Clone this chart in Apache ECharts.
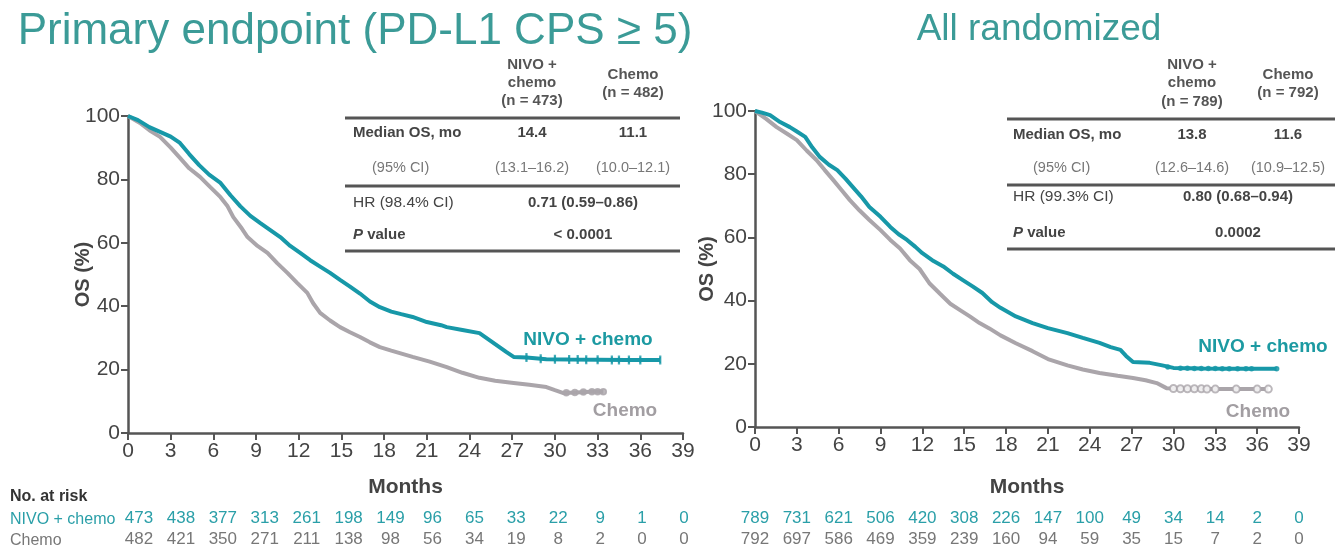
<!DOCTYPE html>
<html><head><meta charset="utf-8">
<script src="https://cdn.jsdelivr.net/npm/echarts@6/dist/echarts.min.js"></script>
<style>html,body{margin:0;padding:0;background:#fff}#c{width:1337px;height:551px}</style>
</head><body><div id="c"></div>
<script>
// ---------- data ----------
const monthTicks = [0,3,6,9,12,15,18,21,24,27,30,33,36,39];
const yTicks = [0,20,40,60,80,100];

const leftNivo = [[0,100],[0.7,98.7],[1.5,96.5],[2.25,95],[3,93.5],[3.65,91.5],[4.3,88],[5,84.5],[5.7,81.5],[6.5,78.9],[7.2,75],[7.9,71.5],[8.6,68.5],[9.3,66.2],[10,64],[10.7,61.8],[11.4,59],[12.1,56.8],[12.8,54.5],[13.5,52.5],[14.2,50.5],[14.9,48.3],[15.6,46.2],[16.3,44],[17,41.5],[17.7,39.7],[18.5,38.3],[19.2,37.5],[20,36.6],[21,35],[22,34],[22.4,33.4],[23.5,32.5],[24.7,31.5],[25.5,29],[26.1,27.1],[26.6,25.5],[27.1,24],[28,23.8],[29.4,23.3],[31,23.2],[33,23.1],[35,23],[37.4,23]];
const leftChemo = [[0,100],[0.84,97.8],[1.5,95.5],[2.25,93.4],[3,90],[3.65,86.8],[4.3,83.5],[5.06,80.8],[5.8,77.5],[6.5,74.4],[7,71.5],[7.4,68.1],[8,64.5],[8.4,61.8],[9.1,59],[9.8,56.8],[10.5,53.5],[11.2,50.5],[11.9,47.3],[12.6,44.2],[13,41],[13.5,37.9],[14.2,35.5],[14.9,33.4],[15.6,31.8],[16.3,30.3],[17,28.6],[17.7,27.1],[18.5,26],[19.1,25.2],[20,24],[21.2,22.5],[22.4,20.8],[23.5,19],[24.7,17.4],[25.8,16.5],[27.1,15.8],[28.2,15.2],[29.4,14.5],[30,13.5],[30.6,12.6],[31.5,12.8],[32.5,13],[33.4,13]];
const rightNivo = [[0,100],[0.5,99.5],[1.08,98.7],[1.8,96.5],[2.5,94.9],[3,93.5],[3.6,91.8],[4.1,88.5],[4.66,85.4],[5.3,83],[5.9,81.3],[6.5,78.5],[7,76],[7.6,73],[8.2,69.6],[9,66.5],[9.7,63.3],[10.3,61],[10.9,59.2],[11.5,57],[12,55],[12.8,52.5],[13.5,50.8],[14.2,48.5],[14.9,46.5],[15.6,44.5],[16.3,42.4],[17,39.5],[17.6,37.7],[18.7,35],[19.9,32.9],[21,31.3],[22.4,29.7],[23.5,28.2],[24.7,26.6],[25.5,25.3],[26.2,24.4],[26.6,22.5],[27.1,20.6],[28.3,20.3],[29.2,19.5],[30,18.7],[32,18.5],[34,18.4],[37.4,18.4]];
const rightChemo = [[0,100],[0.8,97.5],[1.55,94.9],[2.3,92.8],[3,90.8],[3.7,87.5],[4.4,84.5],[5,81.3],[5.6,78.2],[6.2,75],[6.8,71.8],[7.5,68.5],[8.2,65.5],[9,62.3],[9.7,59.2],[10.4,56.5],[11.1,52.8],[11.8,50],[12.5,45.5],[13.3,42],[14,39],[14.7,37],[15.4,35],[16.1,32.9],[16.8,31.2],[17.6,29],[18.7,26.5],[19.9,24],[21,21.5],[22.4,19.5],[23.5,18.2],[24.7,17.1],[26,16.2],[27.1,15.5],[28,14.8],[28.8,13.9],[29.5,12.3],[31,12.1],[33,12],[36.8,12]];

const leftNivoCensor = [[28,23.8],[29,23.4],[30,23.3],[31,23.2],[31.6,23.2],[32.2,23.1],[33,23.1],[34,23],[34.5,23],[35.2,23],[36,23],[37.4,23]];
const leftChemoCensor = [[30.8,12.7],[31.4,12.8],[32,12.9],[32.6,13],[33,13],[33.4,13]];
const rightNivoCensor = [[29.6,19],[30.5,18.6],[31,18.6],[31.5,18.5],[32,18.5],[32.5,18.5],[33,18.5],[33.5,18.4],[34,18.4],[34.6,18.4],[35.2,18.4],[35.6,18.4],[37.4,18.4]];
const rightChemoCensor = [[30,12.2],[30.5,12.1],[31,12.1],[31.5,12.1],[32,12.1],[32.4,12],[33,12],[34.5,12],[36,12],[36.8,12]];

const riskLeftNivo = [473,438,377,313,261,198,149,96,65,33,22,9,1,0];
const riskLeftChemo = [482,421,350,271,211,138,98,56,34,19,8,2,0,0];
const riskRightNivo = [789,731,621,506,420,308,226,147,100,49,34,14,2,0];
const riskRightChemo = [792,697,586,469,359,239,160,94,59,35,15,7,2,0];

const titles = ['Primary endpoint (PD-L1 CPS \u2265 5)', 'All randomized'];
const tableHeadNivo = [['NIVO +','chemo','(n = 473)'], ['NIVO +','chemo','(n = 789)']];
const tableHeadChemo = [['Chemo','(n = 482)'], ['Chemo','(n = 792)']];
const tableMedian = [['14.4','11.1'], ['13.8','11.6']];
const tableCI = [['(13.1\u201316.2)','(10.0\u201312.1)'], ['(12.6\u201314.6)','(10.9\u201312.5)']];
const tableHRLabel = ['HR (98.4% CI)', 'HR (99.3% CI)'];
const tableHR = ['0.71 (0.59\u20130.86)', '0.80 (0.68\u20130.94)'];
const tableP = ['< 0.0001', '0.0002'];

// ---------- styles ----------
const TEAL = '#1798a8', GRAY = '#aaa5aa', TITLE = '#3b9b97', DARK = '#444', AX = '#555';
const F = 'Liberation Sans, Arial, sans-serif';

const chart = echarts.init(document.getElementById('c'));

const grids = [
  {left:128, top:116, width:555, height:317},
  {left:755, top:111, width:544, height:316},
  {left:139, top:503, width:545, height:1},
  {left:755, top:503, width:544, height:1}
];

function mainX(g, gap){
  return {type:'value', gridIndex:g, min:0, max:39, interval:3,
    axisLine:{show:true, onZero:false, lineStyle:{color:AX, width:2.5}},
    axisTick:{show:true, length:7, lineStyle:{color:AX, width:2}},
    axisLabel:{color:DARK, fontSize:21, fontFamily:F, margin:8},
    splitLine:{show:false},
    name:'Months', nameLocation:'middle', nameGap:gap, nameMoveOverlap:false,
    nameTextStyle:{color:DARK, fontSize:21, fontWeight:'bold', fontFamily:F}};
}
function mainY(g, gap){
  return {type:'value', gridIndex:g, min:0, max:100, interval:20,
    axisLine:{show:true, lineStyle:{color:AX, width:2.5}},
    axisTick:{show:true, length:7, lineStyle:{color:AX, width:2}},
    axisLabel:{color:DARK, fontSize:21, fontFamily:F, margin:8},
    splitLine:{show:false},
    name:'OS (%)', nameLocation:'middle', nameGap:gap, nameRotate:90, nameMoveOverlap:false,
    nameTextStyle:{color:DARK, fontSize:20, fontWeight:'bold', fontFamily:F}};
}
function riskX(g, a, b){
  return {type:'value', gridIndex:g, min:0, max:39, interval:3,
    axisLine:{show:false}, axisTick:{show:false}, splitLine:{show:false},
    axisLabel:{margin:4, fontFamily:F, lineHeight:21,
      formatter:function(v){ const i = Math.round(v/3); return '{a|'+a[i]+'}\n{b|'+b[i]+'}'; },
      rich:{a:{color:'#2a9fa8', fontSize:17, fontFamily:F, lineHeight:21},
            b:{color:'#777', fontSize:17, fontFamily:F, lineHeight:21}}}};
}
function hiddenY(g){
  return {type:'value', gridIndex:g, show:false, min:0, max:1};
}

function curve(data, xi, color, z){
  return {type:'line', xAxisIndex:xi, yAxisIndex:xi, data:data, showSymbol:false, symbol:'none',
    lineStyle:{color:color, width:4}, z:z, silent:true, animation:false};
}
function censor(data, xi, color, sym, size, z){
  return {type:'scatter', xAxisIndex:xi, yAxisIndex:xi, data:data, symbol:sym, symbolSize:size,
    itemStyle:{color:color, borderColor:color, borderWidth:1.5}, z:z, silent:true, animation:false};
}

// ---------- table graphics ----------
const graphic = [];
function T(x, y, s, o){
  graphic.push({type:'text', silent:true, x:x, y:y, style:Object.assign({text:s, fill:DARK,
    fontFamily:F, fontSize:15, align:'left', verticalAlign:'middle'}, o||{})});
}
function rule(x1, x2, y){
  graphic.push({type:'line', silent:true, shape:{x1:x1, y1:y, x2:x2, y2:y}, style:{stroke:'#555', lineWidth:3}});
}
const tbl = [
  {x1:345, x2:680, rules:[118,186,251], c1:532, c2:633, cm:583, lx:353, lx2:372, hy:[65,83,101], hy2:[75,93], ry:[133,168,203,235]},
  {x1:1007, x2:1335, rules:[119,185,249], c1:1192, c2:1288, cm:1238, lx:1013, lx2:1033, hy:[65,83,102], hy2:[75,93], ry:[135,168,197,233]}
];
tbl.forEach(function(t, k){
  t.rules.forEach(function(y){ rule(t.x1, t.x2, y); });
  tableHeadNivo[k].forEach(function(s, i){ T(t.c1, t.hy[i], s, {align:'center', fontWeight:'bold', fill:'#555', fontSize:15}); });
  tableHeadChemo[k].forEach(function(s, i){ T(t.c2, t.hy2[i], s, {align:'center', fontWeight:'bold', fill:'#555', fontSize:15}); });
  T(t.lx, t.ry[0], 'Median OS, mo', {fontWeight:'bold'});
  T(t.c1, t.ry[0], tableMedian[k][0], {align:'center', fontWeight:'bold'});
  T(t.c2, t.ry[0], tableMedian[k][1], {align:'center', fontWeight:'bold'});
  T(t.lx2, t.ry[1], '(95% CI)', {fill:'#777', fontSize:14.5});
  T(t.c1, t.ry[1], tableCI[k][0], {align:'center', fill:'#777', fontSize:14.5});
  T(t.c2, t.ry[1], tableCI[k][1], {align:'center', fill:'#777', fontSize:14.5});
  T(t.lx, t.ry[2], tableHRLabel[k], {fill:'#444', fontSize:15.5});
  T(t.cm, t.ry[2], tableHR[k], {align:'center', fontWeight:'bold'});
  T(t.lx, t.ry[3], '{i|P} value', {rich:{i:{fontStyle:'italic', fontFamily:F, fontSize:15, fill:DARK, fontWeight:'bold'}}, fontWeight:'bold'});
  T(t.cm, t.ry[3], tableP[k], {align:'center', fontWeight:'bold'});
});
// titles
T(355, 32, titles[0], {align:'center', fontSize:44, fill:TITLE});
T(1039, 30, titles[1], {align:'center', fontSize:37, fill:TITLE});
// curve labels
T(588, 340, 'NIVO + chemo', {align:'center', fontSize:19, fontWeight:'bold', fill:'#1c9aa2'});
T(625, 411, 'Chemo', {align:'center', fontSize:19, fontWeight:'bold', fill:'#a29ea2'});
T(1263, 347, 'NIVO + chemo', {align:'center', fontSize:19, fontWeight:'bold', fill:'#1c9aa2'});
T(1258, 412, 'Chemo', {align:'center', fontSize:19, fontWeight:'bold', fill:'#a29ea2'});
// risk table row labels
T(10, 497, 'No. at risk', {fontSize:16, fontWeight:'bold', fill:'#333'});
T(10, 520, 'NIVO + chemo', {fontSize:16, fill:'#2a9fa8'});
T(10, 541, 'Chemo', {fontSize:16, fill:'#777'});

chart.setOption({
  animation:false,
  grid: grids,
  xAxis: [mainX(0, 44), mainX(1, 50), riskX(2, riskLeftNivo, riskLeftChemo), riskX(3, riskRightNivo, riskRightChemo)],
  yAxis: [mainY(0, 35), mainY(1, 38), hiddenY(2), hiddenY(3)],
  series: [
    curve(leftChemo, 0, GRAY, 2), curve(leftNivo, 0, TEAL, 3),
    curve(rightChemo, 1, GRAY, 2), curve(rightNivo, 1, TEAL, 3),
    censor(leftChemoCensor, 0, GRAY, 'circle', 6, 2), censor(leftNivoCensor, 0, TEAL, 'rect', [1.5,6], 3),
    censor(rightChemoCensor, 1, GRAY, 'emptyCircle', 7, 2), censor(rightNivoCensor, 1, TEAL, 'circle', 4, 3)
  ],
  graphic: graphic
});
</script></body></html>
